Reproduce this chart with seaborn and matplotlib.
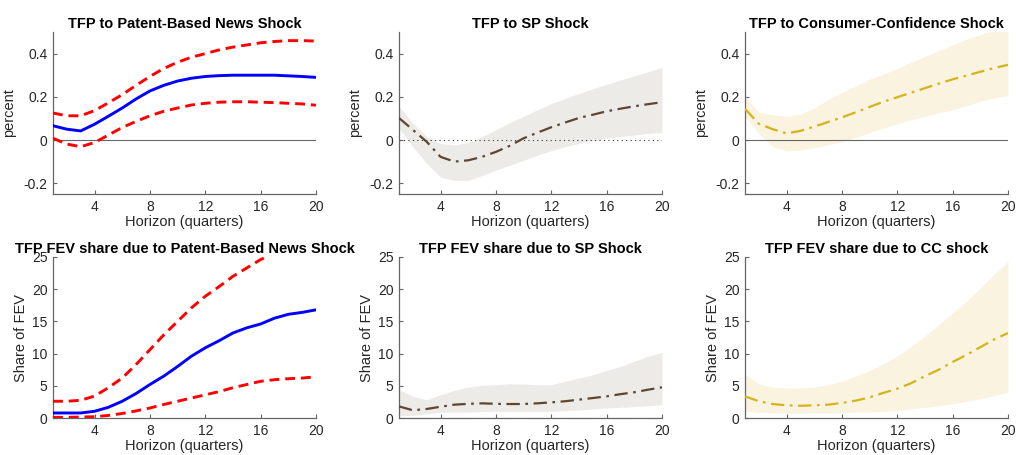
import numpy as np
import pandas as pd
import matplotlib
matplotlib.use("Agg")
import matplotlib.pyplot as plt
import seaborn as sns

horizon = list(range(1, 21))

# Top row: impulse responses (percent)
news_irf = [0.066, 0.050, 0.042, 0.073, 0.110, 0.148, 0.190, 0.227, 0.253, 0.273,
            0.286, 0.294, 0.298, 0.300, 0.300, 0.300, 0.300, 0.297, 0.294, 0.290]
news_irf_hi = [0.125, 0.112, 0.112, 0.136, 0.172, 0.210, 0.253, 0.294, 0.331, 0.360,
               0.383, 0.400, 0.417, 0.430, 0.440, 0.450, 0.456, 0.460, 0.460, 0.458]
news_irf_lo = [0.008, -0.019, -0.031, -0.012, 0.023, 0.058, 0.086, 0.112, 0.133, 0.148,
               0.162, 0.170, 0.175, 0.177, 0.177, 0.175, 0.173, 0.170, 0.167, 0.161]

sp_irf = [0.102, 0.047, -0.008, -0.078, -0.100, -0.094, -0.078, -0.055, -0.027, 0.008,
          0.034, 0.059, 0.081, 0.102, 0.117, 0.133, 0.145, 0.156, 0.166, 0.175]
sp_irf_hi = [0.156, 0.078, 0.016, -0.016, -0.023, -0.012, 0.016, 0.047, 0.081, 0.109,
             0.140, 0.169, 0.192, 0.216, 0.237, 0.258, 0.278, 0.297, 0.316, 0.336]
sp_irf_lo = [0.055, -0.031, -0.109, -0.172, -0.187, -0.187, -0.164, -0.140, -0.117, -0.094,
             -0.070, -0.050, -0.031, -0.016, -0.003, 0.008, 0.016, 0.023, 0.031, 0.034]

cc_irf = [0.144, 0.075, 0.050, 0.031, 0.042, 0.062, 0.083, 0.105, 0.128, 0.153,
          0.177, 0.198, 0.219, 0.240, 0.261, 0.281, 0.298, 0.316, 0.333, 0.348]
cc_irf_hi = [0.203, 0.128, 0.117, 0.109, 0.120, 0.148, 0.187, 0.219, 0.250, 0.281,
             0.305, 0.331, 0.359, 0.387, 0.414, 0.440, 0.466, 0.487, 0.510, 0.530]
cc_irf_lo = [0.109, 0.031, -0.031, -0.050, -0.047, -0.036, -0.023, -0.008, 0.012, 0.034,
             0.055, 0.075, 0.094, 0.109, 0.125, 0.140, 0.159, 0.180, 0.195, 0.206]

# Bottom row: forecast error variance shares (percent)
news_fev = [0.78, 0.78, 0.78, 1.04, 1.66, 2.6, 3.8, 5.2, 6.5, 8.0,
            9.6, 10.9, 12.0, 13.2, 14.0, 14.6, 15.5, 16.1, 16.4, 16.8]
news_fev_hi = [2.6, 2.6, 2.75, 3.4, 4.7, 6.2, 8.3, 10.6, 12.9, 15.0,
               17.1, 18.9, 20.4, 22.0, 23.3, 24.6, 25.6, 26.5, 27.2, 27.8]
news_fev_lo = [0.1, 0.1, 0.15, 0.2, 0.4, 0.7, 1.1, 1.55, 2.1, 2.6,
               3.1, 3.6, 4.1, 4.7, 5.2, 5.7, 5.95, 6.1, 6.2, 6.4]

sp_fev = [1.8, 1.2, 1.4, 1.75, 2.07, 2.2, 2.28, 2.2, 2.17, 2.17,
          2.28, 2.43, 2.6, 2.85, 3.1, 3.36, 3.7, 4.0, 4.4, 4.76]
sp_fev_hi = [4.4, 3.36, 2.85, 3.6, 4.3, 4.8, 5.07, 5.17, 5.3, 5.28,
             5.17, 5.17, 5.7, 6.2, 6.7, 7.4, 8.0, 8.8, 9.6, 10.2]
sp_fev_lo = [0.4, 0.4, 0.67, 0.88, 0.93, 0.93, 1.03, 1.03, 1.03, 1.03,
             1.03, 1.03, 1.14, 1.24, 1.4, 1.55, 1.66, 1.76, 1.9, 2.07]

cc_fev = [3.36, 2.6, 2.17, 1.97, 1.9, 1.97, 2.07, 2.33, 2.7, 3.2,
          3.9, 4.55, 5.4, 6.5, 7.5, 8.7, 9.8, 11.0, 12.2, 13.2]
cc_fev_hi = [6.8, 5.3, 4.76, 4.66, 4.66, 4.8, 5.17, 5.7, 6.5, 7.4,
             8.4, 9.6, 11.1, 12.7, 14.5, 16.3, 18.1, 20.2, 22.3, 24.3]
cc_fev_lo = [1.03, 0.88, 0.78, 0.72, 0.72, 0.78, 0.78, 0.78, 0.88, 0.93,
             1.03, 1.2, 1.4, 1.66, 1.9, 2.2, 2.6, 3.0, 3.5, 4.0]

titles = ["TFP to Patent-Based News Shock", "TFP to SP Shock",
          "TFP to Consumer-Confidence Shock",
          "TFP FEV share due to Patent-Based News Shock",
          "TFP FEV share due to SP Shock", "TFP FEV share due to CC shock"]
xticks = [4, 8, 12, 16, 20]
irf_yticks = [-0.2, 0, 0.2, 0.4]
irf_yticklabels = ["-0.2", "0", "0.2", "0.4"]
fev_yticks = [0, 5, 10, 15, 20, 25]

sns.set_style("ticks")
plt.rcParams['font.family'] = ['Liberation Sans', 'DejaVu Sans']

fig = plt.figure(figsize=(10.16, 4.55), dpi=100)
W = 1016.0
H = 455.0
lefts = [53, 399, 745]
aw = 263
rows = [(32, 194), (257, 418)]

axes = []
for r, (top, bot) in enumerate(rows):
    for c, lft in enumerate(lefts):
        ax = fig.add_axes([lft / W, 1 - bot / H, aw / W, (bot - top) / H])
        axes.append(ax)

BLUE = "#0000FF"
RED = "#FF0000"
SPC = "#5E4632"
SPB = "#EDEBE7"
CCC = "#D6B31A"
CCB = "#F9F3DF"

def frame(col):
    return pd.DataFrame({"h": horizon, "v": col})

# News shock (IRF and FEV)
for ax, mid, hi, lo in [(axes[0], news_irf, news_irf_hi, news_irf_lo),
                        (axes[3], news_fev, news_fev_hi, news_fev_lo)]:
    if ax is axes[0]:
        ax.axhline(0, color="#666666", lw=0.8, zorder=1)
    for band in (hi, lo):
        sns.lineplot(data=frame(band), x="h", y="v", ax=ax, color=RED,
                     lw=2.1, linestyle=(0, (3.4, 2.0)), zorder=3)
    sns.lineplot(data=frame(mid), x="h", y="v", ax=ax, color=BLUE, lw=2.1, zorder=4)

# SP shock
for ax, mid, hi, lo in [(axes[1], sp_irf, sp_irf_hi, sp_irf_lo),
                        (axes[4], sp_fev, sp_fev_hi, sp_fev_lo)]:
    ax.fill_between(horizon, lo, hi, color=SPB, lw=0, zorder=1)
    ax.axhline(0, color="#333333", lw=0.8, linestyle=(0, (1, 3)), zorder=2)
    sns.lineplot(data=frame(mid), x="h", y="v", ax=ax, color=SPC, lw=1.6,
                 linestyle=(0, (6, 2.5, 1.2, 2.5)), zorder=4)

# CC shock
for ax, mid, hi, lo in [(axes[2], cc_irf, cc_irf_hi, cc_irf_lo),
                        (axes[5], cc_fev, cc_fev_hi, cc_fev_lo)]:
    ax.fill_between(horizon, lo, hi, color=CCB, lw=0, zorder=1)
    if ax is axes[2]:
        ax.axhline(0, color="#666666", lw=0.8, zorder=2)
    sns.lineplot(data=frame(mid), x="h", y="v", ax=ax, color=CCC, lw=1.6,
                 linestyle=(0, (6, 2.5, 1.2, 2.5)), zorder=4)

for i, ax in enumerate(axes):
    ax.set_xlim(1, 20)
    ax.set_xticks(xticks)
    if i < 3:
        ax.set_ylim(-0.25, 0.5)
        ax.set_yticks(irf_yticks)
        ax.set_yticklabels(irf_yticklabels)
        ax.set_ylabel("percent", fontsize=10.5, color="#262626", labelpad=5)
    else:
        ax.set_ylim(0, 25)
        ax.set_yticks(fev_yticks)
        ax.set_ylabel("Share of FEV", fontsize=10.5, color="#262626", labelpad=3)
    ax.set_xlabel("Horizon (quarters)", fontsize=10.5, color="#262626", labelpad=1)
    ax.set_title(titles[i], fontsize=10.5, fontweight="bold", pad=3, color="black")
    sns.despine(ax=ax)
    for s in ("left", "bottom"):
        ax.spines[s].set_color("#666666")
        ax.spines[s].set_linewidth(0.9)
    ax.tick_params(direction="in", length=3, width=0.8, color="#666666",
                   labelsize=10, labelcolor="#262626", pad=4)

fig.savefig("out.png", dpi=100)
